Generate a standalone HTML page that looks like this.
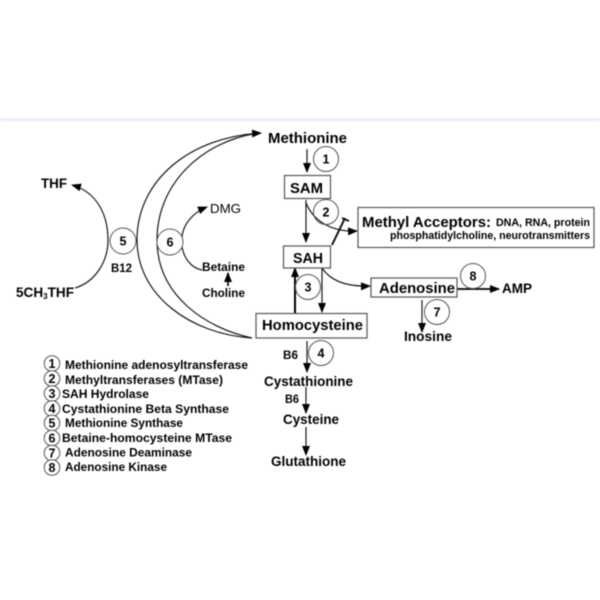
<!DOCTYPE html>
<html><head><meta charset="utf-8"><style>
html,body{margin:0;padding:0;background:#fff;width:600px;height:600px;overflow:hidden}
svg{display:block;filter:blur(.45px)}
text{font-family:"Liberation Sans",sans-serif;font-weight:bold;fill:#000}
.l{font-size:12px}.c{font-size:12.500px;text-anchor:middle}
.a{fill:none;stroke:#111;stroke-width:1.15}
.r{fill:#fff;stroke:#555;stroke-width:1.2}
.k{fill:#fff;stroke:#555;stroke-width:1}
</style></head><body>
<svg width="600" height="600" viewBox="0 0 600 600" xmlns="http://www.w3.org/2000/svg">
<defs><marker id="m" markerWidth="11" markerHeight="9" refX="9" refY="4.500" orient="auto" markerUnits="userSpaceOnUse"><path d="M0 .5L10 4.500L0 8.500Z" fill="#000"/></marker></defs>
<rect x="0" y="118" width="600" height="3.500" fill="#f0f0fb"/>

<!-- large arcs -->
<path class="a" d="M252 338C190 334 137 295 137 240C137 180 190 137 261 133" marker-end="url(#m)"/>
<path class="a" d="M252 338C205 328 157 295 157 240C157 185 200 142 258 133"/>

<path class="a" d="M75 288C95 282 108 262 108 240C108 215 97 192 72 185" marker-end="url(#m)"/>
<path class="a" d="M182 237C183 225 192 213 207 207" marker-end="url(#m)"/>
<path class="a" d="M182 247C184 258 191 268 202 270"/>
<path class="a" d="M228 286V273" style="stroke-width:1.8" marker-end="url(#m)"/>

<circle class="k" cx="123" cy="241" r="13"/><text x="123" y="245.500" class="c">5</text>
<circle class="k" cx="170" cy="242" r="13"/><text x="170" y="246.500" class="c">6</text>

<text x="41" y="188" font-size="13.500" textLength="26" lengthAdjust="spacingAndGlyphs">THF</text>
<text x="16" y="297" font-size="13.500" textLength="58" lengthAdjust="spacingAndGlyphs">5CH<tspan font-size="8" dy="2">3</tspan><tspan dy="-2">THF</tspan></text>
<text x="210" y="213" font-size="13.300" style="font-weight:normal" textLength="31" lengthAdjust="spacingAndGlyphs">DMG</text>
<text x="202" y="271" font-size="12" textLength="43" lengthAdjust="spacingAndGlyphs">Betaine</text>
<text x="202" y="297" font-size="12" textLength="43" lengthAdjust="spacingAndGlyphs">Choline</text>
<text x="111" y="272" font-size="11.500" textLength="21" lengthAdjust="spacingAndGlyphs">B12</text>

<!-- central arrows -->
<path class="a" d="M307 149V172" marker-end="url(#m)"/>
<path class="a" d="M306 200V242" marker-end="url(#m)"/>
<path class="a" d="M306 203C314 222 332 232 357 231" marker-end="url(#m)"/>
<path d="M332 245L345 218M342 218L349 221" fill="none" stroke="#111" stroke-width="2"/>
<path class="a" d="M322 268V312" marker-end="url(#m)"/>
<path d="M295 314V268" fill="none" stroke="#000" stroke-width="2" marker-end="url(#m)"/>
<path class="a" d="M322 268C330 280 345 287 370 286" marker-end="url(#m)"/>
<path d="M457 289H499" fill="none" stroke="#000" stroke-width="1.8" marker-end="url(#m)"/>
<path class="a" d="M422 300V332" marker-end="url(#m)"/>
<path class="a" d="M307 341V372" marker-end="url(#m)"/>
<path class="a" d="M306 387V413" marker-end="url(#m)"/>
<path class="a" d="M306 427V455" marker-end="url(#m)"/>

<!-- boxes -->
<rect class="r" x="284.500" y="175.500" width="46" height="23"/>
<rect class="r" x="283.500" y="246" width="47" height="22"/>
<rect class="r" x="256" y="313.500" width="111" height="24.500"/>
<rect class="r" x="371" y="278" width="86" height="19"/>
<rect class="r" x="358" y="207.500" width="236" height="40"/>

<text x="290" y="193" font-size="15" textLength="33" lengthAdjust="spacingAndGlyphs">SAM</text>
<text x="293" y="263" font-size="15" textLength="30" lengthAdjust="spacingAndGlyphs">SAH</text>
<text x="262" y="330" font-size="15" textLength="101" lengthAdjust="spacingAndGlyphs">Homocysteine</text>
<text x="379" y="293" font-size="15" textLength="76" lengthAdjust="spacingAndGlyphs">Adenosine</text>
<text x="362" y="227" font-size="15" textLength="129" lengthAdjust="spacingAndGlyphs">Methyl Acceptors:</text>
<text x="496" y="226" font-size="10.800" textLength="94" lengthAdjust="spacingAndGlyphs">DNA, RNA, protein</text>
<text x="390" y="239" font-size="10.800" textLength="200" lengthAdjust="spacingAndGlyphs">phosphatidylcholine, neurotransmitters</text>
<text x="268" y="143" font-size="15" textLength="79" lengthAdjust="spacingAndGlyphs">Methionine</text>
<text x="502" y="293" font-size="13.500" textLength="30" lengthAdjust="spacingAndGlyphs">AMP</text>
<text x="404" y="341" font-size="13.500" textLength="48" lengthAdjust="spacingAndGlyphs">Inosine</text>
<text x="264" y="386" font-size="13.500" textLength="89" lengthAdjust="spacingAndGlyphs">Cystathionine</text>
<text x="283" y="424" font-size="13.500" textLength="56" lengthAdjust="spacingAndGlyphs">Cysteine</text>
<text x="271" y="466" font-size="13.500" textLength="75" lengthAdjust="spacingAndGlyphs">Glutathione</text>
<text x="283" y="359" font-size="11.500" textLength="15" lengthAdjust="spacingAndGlyphs">B6</text>
<text x="285" y="403" font-size="11.500" textLength="14" lengthAdjust="spacingAndGlyphs">B6</text>

<g>
<circle class="k" cx="326" cy="159" r="12.500"/><text x="326" y="163.500" class="c">1</text>
<circle class="k" cx="326" cy="212" r="12.500" style="fill:none"/><text x="326" y="216.500" class="c">2</text>
<circle class="k" cx="308" cy="287" r="12.500"/><text x="308" y="291.500" class="c">3</text>
<circle class="k" cx="321" cy="353" r="12.500"/><text x="321" y="357.500" class="c">4</text>
<circle class="k" cx="437" cy="312" r="12.500"/><text x="437" y="316.500" class="c">7</text>
<circle class="k" cx="473" cy="276" r="12.500"/><text x="473" y="280.500" class="c">8</text>
</g>

<!-- legend -->
<g>
<circle class="k" cx="52" cy="363.500" r="7.800"/><text x="52" y="368" class="c">1</text>
<circle class="k" cx="52" cy="378.500" r="7.800"/><text x="52" y="383" class="c">2</text>
<circle class="k" cx="52" cy="393.500" r="7.800"/><text x="52" y="398" class="c">3</text>
<circle class="k" cx="52" cy="408.500" r="7.800"/><text x="52" y="413" class="c">4</text>
<circle class="k" cx="52" cy="423" r="7.800"/><text x="52" y="427.500" class="c">5</text>
<circle class="k" cx="52" cy="438" r="7.800"/><text x="52" y="442.500" class="c">6</text>
<circle class="k" cx="52" cy="453" r="7.800"/><text x="52" y="457.500" class="c">7</text>
<circle class="k" cx="52" cy="467.500" r="7.800"/><text x="52" y="472" class="c">8</text>
</g>
<text class="l" x="65" y="369" textLength="183" lengthAdjust="spacingAndGlyphs">Methionine adenosyltransferase</text>
<text class="l" x="65" y="384" textLength="158" lengthAdjust="spacingAndGlyphs">Methyltransferases (MTase)</text>
<text class="l" x="62" y="398" textLength="87" lengthAdjust="spacingAndGlyphs">SAH Hydrolase</text>
<text class="l" x="62" y="413" textLength="167" lengthAdjust="spacingAndGlyphs">Cystathionine Beta Synthase</text>
<text class="l" x="65" y="427" textLength="118" lengthAdjust="spacingAndGlyphs">Methionine Synthase</text>
<text class="l" x="62" y="442" textLength="170" lengthAdjust="spacingAndGlyphs">Betaine-homocysteine MTase</text>
<text class="l" x="65" y="456.500" textLength="127" lengthAdjust="spacingAndGlyphs">Adenosine Deaminase</text>
<text class="l" x="65" y="471" textLength="102" lengthAdjust="spacingAndGlyphs">Adenosine Kinase</text>
</svg>
</body></html>
